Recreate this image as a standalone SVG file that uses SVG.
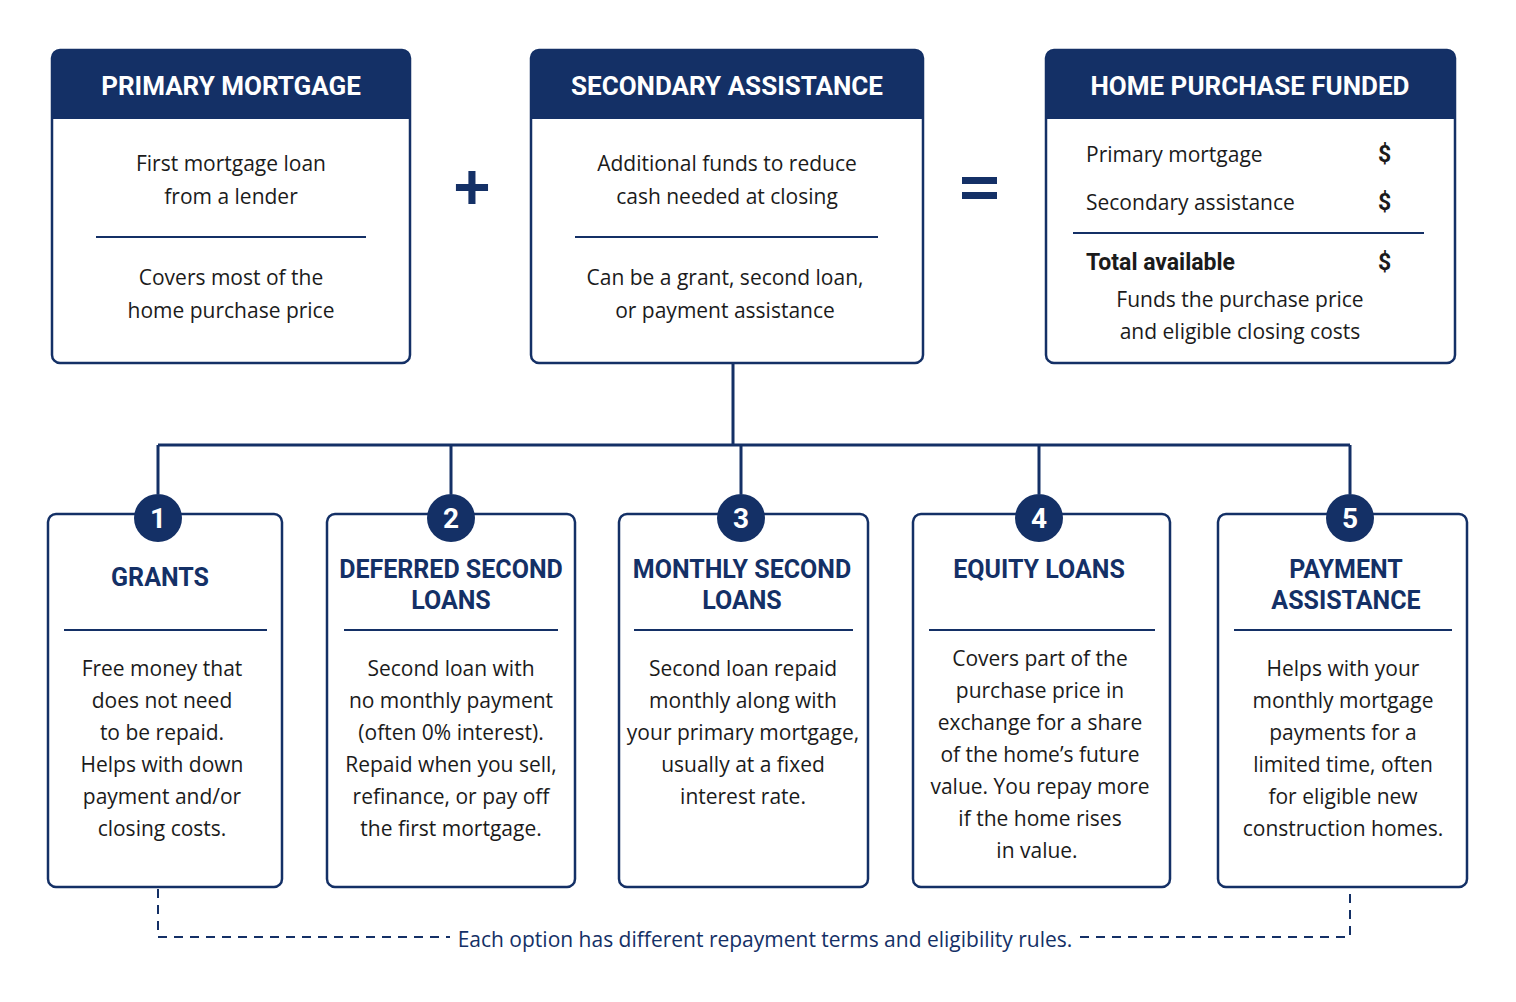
<svg xmlns="http://www.w3.org/2000/svg" width="1516" height="1002" viewBox="0 0 1516 1002">
<style>
.box{fill:#fff;stroke:#143066;stroke-width:2.5}
.hdr{fill:#143066}
.ht{font-family:Roboto,"Liberation Sans",sans-serif;font-weight:bold;font-size:26px;fill:#fff;text-anchor:middle}
.t{font-family:"Open Sans","Liberation Sans",sans-serif;font-size:21px;fill:#1b1b1b;text-anchor:middle}
.tl{font-family:"Open Sans","Liberation Sans",sans-serif;font-size:21px;fill:#1b1b1b}
.tb{font-family:Roboto,"Liberation Sans",sans-serif;font-weight:bold;font-size:23px;fill:#1b1b1b}
.bt{font-family:Roboto,"Liberation Sans",sans-serif;font-weight:bold;font-size:25px;fill:#143066;text-anchor:middle}
.sep{stroke:#143066;stroke-width:2}
.ln{stroke:#143066;stroke-width:3;fill:none}
.num{font-family:Roboto,"Liberation Sans",sans-serif;font-weight:bold;font-size:28px;fill:#fff;text-anchor:middle}
.op{font-family:"Liberation Sans",Arial,sans-serif;font-weight:bold;font-size:64px;fill:#143066;text-anchor:middle}
</style>
<rect width="1516" height="1002" fill="#fff"/>
<g id="connectors">
<path class="ln" d="M733 363V445M158 445H1350M158 445V494M451 445V494M741 445V494M1039 445V494M1350 445V494"/>
<path d="M158 889V937H450M1080 937H1350V889" stroke="#143066" stroke-width="2" stroke-dasharray="9,7" fill="none"/>
<text x="765" y="947" font-family="Open Sans,Liberation Sans,sans-serif" font-size="21" fill="#143066" text-anchor="middle">Each option has different repayment terms and eligibility rules.</text>
</g>
<g id="primary">
<rect class="box" x="52" y="50" width="358" height="313" rx="8"/>
<path class="hdr" d="M52 58a8 8 0 0 1 8-8h342a8 8 0 0 1 8 8v61H52z"/>
<text class="ht" x="231" y="95">PRIMARY MORTGAGE</text>
<text class="t" x="231" y="171">First mortgage loan</text>
<text class="t" x="231" y="204">from a lender</text>
<line class="sep" x1="96" y1="237" x2="366" y2="237"/>
<text class="t" x="231" y="285">Covers most of the</text>
<text class="t" x="231" y="318">home purchase price</text>
</g>
<g id="plus"><text class="op" x="472" y="209">+</text></g>
<g id="secondary">
<rect class="box" x="531" y="50" width="392" height="313" rx="8"/>
<path class="hdr" d="M531 58a8 8 0 0 1 8-8h376a8 8 0 0 1 8 8v61H531z"/>
<text class="ht" x="727" y="95">SECONDARY ASSISTANCE</text>
<text class="t" x="727" y="171">Additional funds to reduce</text>
<text class="t" x="727" y="204">cash needed at closing</text>
<line class="sep" x1="575" y1="237" x2="878" y2="237"/>
<text class="t" x="725" y="285">Can be a grant, second loan,</text>
<text class="t" x="725" y="318">or payment assistance</text>
</g>
<g id="equals"><rect x="962" y="177" width="35" height="7" fill="#143066"/><rect x="962" y="192" width="35" height="7" fill="#143066"/></g>
<g id="funded">
<rect class="box" x="1046" y="50" width="409" height="313" rx="8"/>
<path class="hdr" d="M1046 58a8 8 0 0 1 8-8h393a8 8 0 0 1 8 8v61H1046z"/>
<text class="ht" x="1250" y="95">HOME PURCHASE FUNDED</text>
<text class="tl" x="1086" y="162">Primary mortgage</text>
<text class="tb" x="1378" y="162">$</text>
<text class="tl" x="1086" y="210">Secondary assistance</text>
<text class="tb" x="1378" y="210">$</text>
<line class="sep" x1="1073" y1="233" x2="1424" y2="233"/>
<text class="tb" x="1086" y="270">Total available</text>
<text class="tb" x="1378" y="270">$</text>
<text class="t" x="1240" y="307">Funds the purchase price</text>
<text class="t" x="1240" y="339">and eligible closing costs</text>
</g>
<g id="opt1">
<rect class="box" x="48" y="514" width="234" height="373" rx="8"/>
<circle cx="158" cy="518" r="24" fill="#143066"/><text class="num" x="158" y="528">1</text>
<text class="bt" x="160" y="586">GRANTS</text>
<line class="sep" x1="64" y1="630" x2="267" y2="630"/>
<text class="t" x="162" y="676">Free money that</text><text class="t" x="162" y="708">does not need</text><text class="t" x="162" y="740">to be repaid.</text><text class="t" x="162" y="772">Helps with down</text><text class="t" x="162" y="804">payment and/or</text><text class="t" x="162" y="836">closing costs.</text>
</g>
<g id="opt2">
<rect class="box" x="327" y="514" width="248" height="373" rx="8"/>
<circle cx="451" cy="518" r="24" fill="#143066"/><text class="num" x="451" y="528">2</text>
<text class="bt" x="451" y="578">DEFERRED SECOND</text><text class="bt" x="451" y="609">LOANS</text>
<line class="sep" x1="344" y1="630" x2="558" y2="630"/>
<text class="t" x="451" y="676">Second loan with</text><text class="t" x="451" y="708">no monthly payment</text><text class="t" x="451" y="740">(often 0% interest).</text><text class="t" x="451" y="772">Repaid when you sell,</text><text class="t" x="451" y="804">refinance, or pay off</text><text class="t" x="451" y="836">the first mortgage.</text>
</g>
<g id="opt3">
<rect class="box" x="619" y="514" width="249" height="373" rx="8"/>
<circle cx="741" cy="518" r="24" fill="#143066"/><text class="num" x="741" y="528">3</text>
<text class="bt" x="742" y="578">MONTHLY SECOND</text><text class="bt" x="742" y="609">LOANS</text>
<line class="sep" x1="634" y1="630" x2="853" y2="630"/>
<text class="t" x="743" y="676">Second loan repaid</text><text class="t" x="743" y="708">monthly along with</text><text class="t" x="743" y="740">your primary mortgage,</text><text class="t" x="743" y="772">usually at a fixed</text><text class="t" x="743" y="804">interest rate.</text>
</g>
<g id="opt4">
<rect class="box" x="913" y="514" width="257" height="373" rx="8"/>
<circle cx="1039" cy="518" r="24" fill="#143066"/><text class="num" x="1039" y="528">4</text>
<text class="bt" x="1039" y="578">EQUITY LOANS</text>
<line class="sep" x1="929" y1="630" x2="1155" y2="630"/>
<text class="t" x="1040" y="666">Covers part of the</text><text class="t" x="1040" y="698">purchase price in</text><text class="t" x="1040" y="730">exchange for a share</text><text class="t" x="1040" y="762">of the home’s future</text><text class="t" x="1040" y="794">value. You repay more</text><text class="t" x="1040" y="826">if the home rises</text><text class="t" x="1037" y="858">in value.</text>
</g>
<g id="opt5">
<rect class="box" x="1218" y="514" width="249" height="373" rx="8"/>
<circle cx="1350" cy="518" r="24" fill="#143066"/><text class="num" x="1350" y="528">5</text>
<text class="bt" x="1346" y="578">PAYMENT</text><text class="bt" x="1346" y="609">ASSISTANCE</text>
<line class="sep" x1="1234" y1="630" x2="1452" y2="630"/>
<text class="t" x="1343" y="676">Helps with your</text><text class="t" x="1343" y="708">monthly mortgage</text><text class="t" x="1343" y="740">payments for a</text><text class="t" x="1343" y="772">limited time, often</text><text class="t" x="1343" y="804">for eligible new</text><text class="t" x="1343" y="836">construction homes.</text>
</g>
</svg>
